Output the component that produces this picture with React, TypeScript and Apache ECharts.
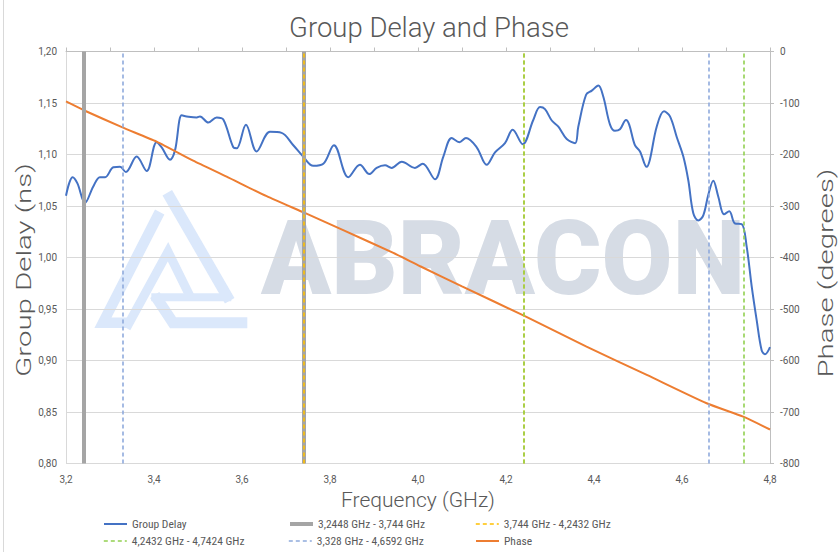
import React, { useEffect, useRef } from "react";
import * as echarts from "echarts";

// ---- data ----
const groupDelayFreq = [
  3.2, 3.215, 3.226, 3.243, 3.262, 3.277, 3.289, 3.3076, 3.3227, 3.336, 3.3606, 3.3833, 3.406, 3.4175,
  3.4364, 3.4477, 3.463, 3.4743, 3.497, 3.5045, 3.5234, 3.5425, 3.5575, 3.5802, 3.588, 3.609, 3.6334,
  3.6636, 3.69, 3.7166, 3.739, 3.762, 3.7848, 3.809, 3.8416, 3.868, 3.8894, 3.906, 3.925, 3.94, 3.963,
  3.993, 4.0106, 4.0386, 4.0576, 4.0766, 4.094, 4.109, 4.1334, 4.156, 4.175, 4.1977, 4.2152, 4.238,
  4.262, 4.2773, 4.2886, 4.304, 4.319, 4.338, 4.357, 4.3643, 4.382, 4.395, 4.4098, 4.4212, 4.4364,
  4.4477, 4.459, 4.4727, 4.48, 4.493, 4.5045, 4.5197, 4.527, 4.5425, 4.559, 4.5727, 4.588, 4.603,
  4.6143, 4.6257, 4.637, 4.6484, 4.6598, 4.6711, 4.6825, 4.6955, 4.7075, 4.7205, 4.7357, 4.747,
  4.7584, 4.7698, 4.781, 4.7886, 4.8,
];
const groupDelayNs = [
  1.06, 1.078, 1.072, 1.053, 1.069, 1.078, 1.078, 1.0876, 1.088, 1.083, 1.098, 1.084, 1.112, 1.107,
  1.095, 1.104, 1.138, 1.137, 1.136, 1.137, 1.131, 1.136, 1.134, 1.107, 1.106, 1.129, 1.103,
  1.122, 1.121, 1.109, 1.098, 1.089, 1.091, 1.109, 1.078, 1.09, 1.081, 1.087, 1.0895, 1.087, 1.093,
  1.087, 1.091, 1.076, 1.098, 1.116, 1.112, 1.116, 1.107, 1.09, 1.102, 1.111, 1.124, 1.11,
  1.1335, 1.146, 1.144, 1.133, 1.127, 1.115, 1.111, 1.127, 1.158, 1.162, 1.167, 1.156, 1.129,
  1.123, 1.1245, 1.1335, 1.129, 1.109, 1.103, 1.088, 1.095, 1.127, 1.142, 1.137, 1.117, 1.098,
  1.075, 1.043, 1.036, 1.041, 1.061, 1.0745, 1.059, 1.042, 1.045, 1.033, 1.0325, 1.0105,
  0.972, 0.939, 0.91, 0.906, 0.913,
];

const phaseFreq = [3.2, 3.243, 3.327, 3.406, 3.489, 3.565, 3.656, 3.744, 3.83, 3.944, 4.005, 4.1, 4.243, 4.383, 4.52, 4.656, 4.739, 4.8];
const phaseDeg = [-97, -115, -147, -175, -212, -243, -281, -314, -347, -391, -417, -456, -514, -573, -628, -683, -709, -734];

const rangeNames = [
  "3,2448 GHz - 3,744 GHz",
  "3,744 GHz - 4,2432 GHz",
  "4,2432 GHz - 4,7424 GHz",
  "3,328 GHz - 4,6592 GHz",
];
const rangeBounds = [
  [3.2448, 3.744],
  [3.744, 4.2432],
  [4.2432, 4.7424],
  [3.328, 4.6592],
];

const delayTicks = { min: 0.8, max: 1.2, step: 0.05 };
const phaseTicks = { min: -800, max: 0, step: 100 };
const freqTicks = { min: 3.2, max: 4.8, step: 0.2 };

// ---- styles ----
const rangeStyles = [
  { color: "#a5a5a5", width: 4, type: "solid" },
  { color: "#ffc000", width: 1.6, type: [4, 3] },
  { color: "#92d050", width: 1.6, type: [4, 3] },
  { color: "#8faadc", width: 1.6, type: [4, 3] },
];
const TEXT = "#595959";
const FONT = "Roboto, 'Noto Sans', sans-serif";
const LEGEND_FONT = "'Liberation Sans Narrow', 'Roboto Condensed', Roboto, sans-serif";
const WM_BLUE = "#dbe8fb";

const comma = (v: number, d: number) => v.toFixed(d).replace(".", ",");

export default function App() {
  const ref = useRef<HTMLDivElement>(null);

  useEffect(() => {
    document.body.style.margin = "0";
    if (!ref.current) return;
    const chart = echarts.init(ref.current, undefined, { renderer: "svg" });

    const gd = groupDelayFreq.map((f, i) => [f, groupDelayNs[i]]);
    const ph = phaseFreq.map((f, i) => [f, phaseDeg[i]]);

    const rangeSeries = rangeNames.map((name, i) => ({
      name,
      type: "line",
      yAxisIndex: 0,
      data: [],
      symbol: "none",
      lineStyle: rangeStyles[i],
      itemStyle: { color: rangeStyles[i].color },
      markLine: {
        silent: true,
        symbol: ["none", "none"],
        label: { show: false },
        lineStyle: rangeStyles[i],
        data: rangeBounds[i].map((b) => ({ xAxis: b })),
      },
    }));

    const legendCols = [98, 283, 470];
    const legendRows = [513, 530];
    const legendOrder = ["Group Delay", rangeNames[0], rangeNames[1], rangeNames[2], rangeNames[3], "Phase"];

    const wmLine = (pts: number[][], w: number) => ({
      type: "polyline",
      z: -10,
      silent: true,
      shape: { points: pts },
      style: { stroke: WM_BLUE, lineWidth: w, fill: null, lineJoin: "miter", lineCap: "butt" },
    });

    const axisTitle = (text: string, x: number, y: number) => ({
      type: "text",
      silent: true,
      x,
      y,
      rotation: Math.PI / 2,
      scaleX: 1.4,
      style: {
        text,
        fontFamily: FONT,
        fontWeight: 300,
        fontSize: 21,
        fill: TEXT,
        textAlign: "center",
        textVerticalAlign: "middle",
      },
    });

    chart.setOption({
      animation: false,
      backgroundColor: "#ffffff",
      title: {
        text: "Group Delay and Phase",
        left: 424,
        top: 8,
        textAlign: "center",
        textStyle: { fontFamily: FONT, fontWeight: 300, fontSize: 27.5, color: TEXT },
      },
      grid: { left: 66, right: 69, top: 51.5, bottom: 88.5, containLabel: false },
      legend: legendOrder.map((n, i) => ({
        data: [n],
        left: legendCols[i % 3],
        top: legendRows[Math.floor(i / 3)],
        itemWidth: 23,
        itemHeight: 14,
        itemGap: 0,
        selectedMode: false,
        itemStyle: { opacity: 0 },
        lineStyle: { width: "inherit" },
        textStyle: { fontFamily: LEGEND_FONT, fontSize: 11.5, color: TEXT },
      })),
      xAxis: {
        type: "value",
        min: freqTicks.min,
        max: freqTicks.max,
        interval: freqTicks.step,
        axisLine: { show: true, lineStyle: { color: "#bfbfbf" } },
        axisTick: { show: true, inside: true, length: 4, lineStyle: { color: "#bfbfbf" } },
        minorTick: { show: true, splitNumber: 2, length: 4, lineStyle: { color: "#bfbfbf" } },
        splitLine: { show: false },
        axisLabel: { formatter: (v: number) => comma(v, 1), color: TEXT, fontSize: 10, fontFamily: FONT, margin: 11 },
        name: "Frequency (GHz)",
        nameLocation: "middle",
        nameGap: 26,
        nameTextStyle: { fontFamily: FONT, fontWeight: 300, fontSize: 21, color: TEXT },
      },
      yAxis: [
        {
          type: "value",
          min: delayTicks.min,
          max: delayTicks.max,
          interval: delayTicks.step,
          axisLine: { show: true, lineStyle: { color: "#d9d9d9" } },
          axisTick: { show: false },
          splitLine: { show: true, lineStyle: { color: "#d9d9d9" } },
          axisLabel: { formatter: (v: number) => comma(v, 2), color: TEXT, fontSize: 10, fontFamily: FONT, margin: 9 },
        },
        {
          type: "value",
          position: "right",
          min: phaseTicks.min,
          max: phaseTicks.max,
          interval: phaseTicks.step,
          axisLine: { show: true, lineStyle: { color: "#bfbfbf" } },
          axisTick: { show: true, length: 4, lineStyle: { color: "#bfbfbf" } },
          splitLine: { show: false },
          axisLabel: { color: TEXT, fontSize: 10, fontFamily: FONT, margin: 10 },
        },
      ],
      graphic: [
        {
          type: "line",
          z: -10,
          silent: true,
          shape: { x1: 3.5, y1: 0, x2: 3.5, y2: 552 },
          style: { stroke: "#d9d9d9", lineWidth: 1 },
        },
        {
          type: "text",
          z: -10,
          silent: true,
          x: 503,
          y: 258,
          style: {
            text: "ABRACON",
            fontFamily: "Roboto, sans-serif",
            fontWeight: 900,
            fontSize: 103,
            fill: "#d6dce5",
            textAlign: "center",
            textVerticalAlign: "middle",
          },
        },
        wmLine([[167.3, 192.7], [229.7, 300.7]], 11),
        wmLine([[159.7, 212], [103, 322.7], [131, 322.7]], 10.5),
        wmLine([[126.3, 328], [168, 251.7], [190.5, 297.3]], 9),
        wmLine([[151.3, 297.3], [231.3, 297.3]], 8),
        wmLine([[154.7, 295], [173, 322.7], [247.3, 322.7]], 11),
        axisTitle("Group Delay (ns)", 24, 270),
        axisTitle("Phase (degrees)", 826, 273),
      ],
      series: [
        {
          name: "Group Delay",
          type: "line",
          yAxisIndex: 0,
          data: gd,
          smooth: 0.35,
          symbol: "none",
          lineStyle: { color: "#4472c4", width: 2 },
          itemStyle: { color: "#4472c4" },
          z: 4,
        },
        ...rangeSeries,
        {
          name: "Phase",
          type: "line",
          yAxisIndex: 1,
          data: ph,
          smooth: 0.2,
          symbol: "none",
          lineStyle: { color: "#ed7d31", width: 2 },
          itemStyle: { color: "#ed7d31" },
          z: 4,
        },
      ],
    });

    return () => chart.dispose();
  }, []);

  return <div ref={ref} style={{ width: 839, height: 552 }} />;
}
